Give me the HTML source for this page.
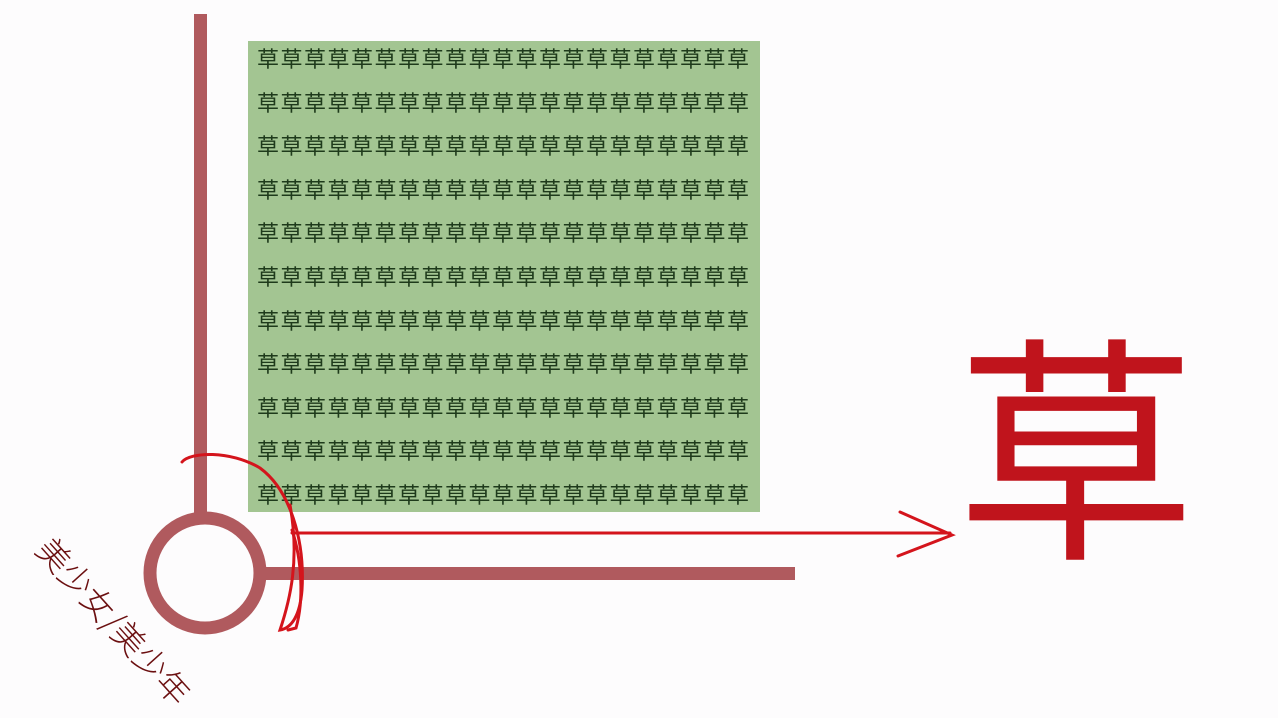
<!DOCTYPE html>
<html><head><meta charset="utf-8"><style>
body{margin:0;width:1278px;height:714px;background:#fdfcfd;position:relative;overflow:hidden;font-family:"Liberation Sans","Noto Sans CJK SC",sans-serif}
.grid{position:absolute;left:248px;top:41px;width:512px;height:471px;background:#a3c592}
.txt{position:absolute;left:257px;top:37px;font-family:"Noto Sans CJK SC",sans-serif;font-size:22px;line-height:43.6px;letter-spacing:1.5px;color:#1e3a1b;white-space:pre}
.big{position:absolute;left:956px;top:318px;width:240px;font-family:"Noto Sans CJK SC",sans-serif;font-weight:400;font-size:240px;line-height:240px;color:#c0141c;text-align:center}
.rot{position:absolute;left:5px;top:602px;width:220px;text-align:center;font-family:"Noto Sans CJK SC",sans-serif;font-weight:300;font-size:33px;line-height:36px;color:#6b0f10;transform:rotate(48deg);white-space:nowrap}
</style></head><body>
<div class="grid"></div>
<div class="txt">草草草草草草草草草草草草草草草草草草草草草
草草草草草草草草草草草草草草草草草草草草草
草草草草草草草草草草草草草草草草草草草草草
草草草草草草草草草草草草草草草草草草草草草
草草草草草草草草草草草草草草草草草草草草草
草草草草草草草草草草草草草草草草草草草草草
草草草草草草草草草草草草草草草草草草草草草
草草草草草草草草草草草草草草草草草草草草草
草草草草草草草草草草草草草草草草草草草草草
草草草草草草草草草草草草草草草草草草草草草
草草草草草草草草草草草草草草草草草草草草草</div>
<svg width="1278" height="714" style="position:absolute;left:0;top:0">
<rect x="194" y="14" width="13" height="502" fill="#b05a5e"/>
<rect x="262" y="567" width="533" height="13" fill="#b05a5e"/>
<circle cx="205" cy="573" r="55" fill="none" stroke="#b05a5e" stroke-width="13"/>
<g fill="none" stroke="#d4141c" stroke-width="3" stroke-linecap="round">
<line x1="292" y1="533" x2="950" y2="533"/>
<path d="M900 512 L952 535 L898 556"/>
<path d="M182 462 C190 452 230 450 260 468 C290 490 305 540 302 590 C300 615 292 628 280 630 C290 600 300 560 290 505"/>
<path d="M292 530 C302 560 304 600 296 628 L288 630"/>
</g>
</svg>
<div class="big">草</div>
<div class="rot">美少女/美少年</div>
</body></html>
